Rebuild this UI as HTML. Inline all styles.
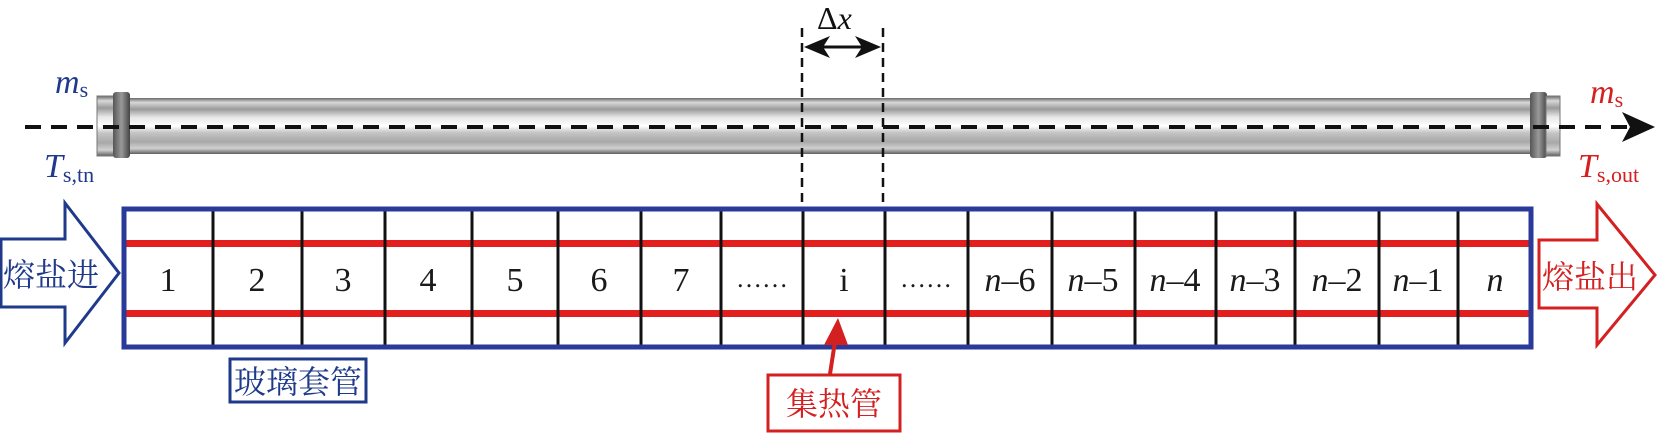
<!DOCTYPE html>
<html><head><meta charset="utf-8"><style>
html,body{margin:0;padding:0;background:#fff;}
svg{display:block;}
.t{font-family:"Liberation Serif","Noto Serif CJK SC",serif;font-size:34px;fill:#1a1a1a;}
.cn{font-family:"Noto Serif CJK SC","Noto Sans CJK SC",serif;font-size:32px;}
</style></head><body>
<svg width="1659" height="434" viewBox="0 0 1659 434" xmlns="http://www.w3.org/2000/svg">
<defs>
<linearGradient id="tg" x1="0" y1="0" x2="0" y2="1">
<stop offset="0" stop-color="#6a6a6a"/><stop offset="0.08" stop-color="#d8d8d8"/>
<stop offset="0.2" stop-color="#9a9a9a"/><stop offset="0.35" stop-color="#e8e8e8"/>
<stop offset="0.5" stop-color="#ffffff"/><stop offset="0.62" stop-color="#c4c4c4"/>
<stop offset="0.78" stop-color="#a8a8a8"/><stop offset="0.9" stop-color="#d0d0d0"/>
<stop offset="1" stop-color="#5e5e5e"/></linearGradient>
<linearGradient id="cg" x1="0" y1="0" x2="1" y2="0">
<stop offset="0" stop-color="#555"/><stop offset="0.5" stop-color="#999"/><stop offset="1" stop-color="#444"/></linearGradient>
</defs>
<rect x="128" y="98" width="1406" height="56" fill="url(#tg)"/>
<rect x="97" y="96" width="18" height="60" fill="url(#tg)" stroke="#777" stroke-width="1"/>
<rect x="113" y="92" width="17" height="66" rx="3" fill="url(#cg)"/>
<rect x="1530" y="92" width="17" height="66" rx="3" fill="url(#cg)"/>
<rect x="1546" y="96" width="14" height="60" fill="url(#tg)" stroke="#777" stroke-width="1"/>
<line x1="25" y1="127" x2="1628" y2="127" stroke="#111" stroke-width="4" stroke-dasharray="16,10"/>
<polygon points="1655,127 1622,112 1630,127 1622,142" fill="#111"/>
<text x="55" y="93" font-family="Liberation Serif,serif" font-style="italic" font-size="34" fill="#1f3a8a">m<tspan font-style="normal" font-size="22" dy="4">s</tspan></text>
<text x="44" y="177" font-family="Liberation Serif,serif" font-style="italic" font-size="34" fill="#1f3a8a">T<tspan font-style="normal" font-size="22" dy="5">s,tn</tspan></text>
<text x="1590" y="103" font-family="Liberation Serif,serif" font-style="italic" font-size="34" fill="#d42020">m<tspan font-style="normal" font-size="22" dy="4">s</tspan></text>
<text x="1578" y="177" font-family="Liberation Serif,serif" font-style="italic" font-size="34" fill="#d42020">T<tspan font-style="normal" font-size="22" dy="5">s,out</tspan></text>
<line x1="802" y1="28" x2="802" y2="208" stroke="#111" stroke-width="2.5" stroke-dasharray="9,6"/>
<line x1="883" y1="28" x2="883" y2="208" stroke="#111" stroke-width="2.5" stroke-dasharray="9,6"/>
<line x1="815" y1="47" x2="870" y2="47" stroke="#111" stroke-width="3"/>
<polygon points="804,47 830,36 823,47 830,58" fill="#111"/>
<polygon points="881,47 855,36 862,47 855,58" fill="#111"/>
<text x="817" y="29" font-family="Liberation Serif,serif" font-size="32" fill="#111">Δ<tspan font-style="italic">x</tspan></text>
<rect x="124" y="210" width="1407" height="136" fill="#fff"/>
<rect x="124" y="240" width="1407" height="7" fill="#e31e1e"/>
<rect x="124" y="310" width="1407" height="7" fill="#e31e1e"/>
<g stroke="#111" stroke-width="3">
<line x1="213" y1="210" x2="213" y2="346"/><line x1="302" y1="210" x2="302" y2="346"/>
<line x1="385" y1="210" x2="385" y2="346"/><line x1="472" y1="210" x2="472" y2="346"/>
<line x1="558" y1="210" x2="558" y2="346"/><line x1="641" y1="210" x2="641" y2="346"/>
<line x1="721" y1="210" x2="721" y2="346"/><line x1="803" y1="210" x2="803" y2="346"/>
<line x1="885" y1="210" x2="885" y2="346"/><line x1="968" y1="210" x2="968" y2="346"/>
<line x1="1052" y1="210" x2="1052" y2="346"/><line x1="1135" y1="210" x2="1135" y2="346"/>
<line x1="1216" y1="210" x2="1216" y2="346"/><line x1="1295" y1="210" x2="1295" y2="346"/>
<line x1="1379" y1="210" x2="1379" y2="346"/><line x1="1458" y1="210" x2="1458" y2="346"/>
</g>
<rect x="124" y="209" width="1407" height="138" fill="none" stroke="#2a3a9a" stroke-width="5"/>
<g class="t" text-anchor="middle">
<text x="168" y="291">1</text><text x="257" y="291">2</text><text x="343" y="291">3</text>
<text x="428" y="291">4</text><text x="515" y="291">5</text><text x="599" y="291">6</text>
<text x="681" y="291">7</text><text x="762" y="287" font-size="26">……</text>
<text x="844" y="291">i</text><text x="926" y="287" font-size="26">……</text>
<text x="1010" y="291"><tspan font-style="italic">n</tspan>–6</text>
<text x="1093" y="291"><tspan font-style="italic">n</tspan>–5</text>
<text x="1175" y="291"><tspan font-style="italic">n</tspan>–4</text>
<text x="1255" y="291"><tspan font-style="italic">n</tspan>–3</text>
<text x="1337" y="291"><tspan font-style="italic">n</tspan>–2</text>
<text x="1418" y="291"><tspan font-style="italic">n</tspan>–1</text>
<text x="1495" y="291" font-style="italic">n</text>
</g>
<polygon points="1,239 65,239 65,203 119,273 65,343 65,307 1,307" fill="#fff" stroke="#1f3a8a" stroke-width="3"/>
<text x="3" y="286" class="cn" fill="#1f3a8a">熔盐进</text>
<polygon points="1539,240 1597,240 1597,204 1655,275 1597,345 1597,308 1539,308" fill="#fff" stroke="#d42020" stroke-width="3"/>
<text x="1542" y="288" class="cn" fill="#d42020">熔盐出</text>
<rect x="230" y="359" width="136" height="43" fill="#fff" stroke="#1f3a8a" stroke-width="3"/>
<text x="234" y="393" class="cn" fill="#1f3a8a">玻璃套管</text>
<line x1="830" y1="374" x2="836" y2="335" stroke="#d42020" stroke-width="4"/>
<polygon points="838,318 824,345 848,345" fill="#d42020"/>
<rect x="768" y="375" width="132" height="56" fill="#fff" stroke="#d42020" stroke-width="3"/>
<text x="786" y="415" class="cn" fill="#d42020">集热管</text>
</svg>
</body></html>
